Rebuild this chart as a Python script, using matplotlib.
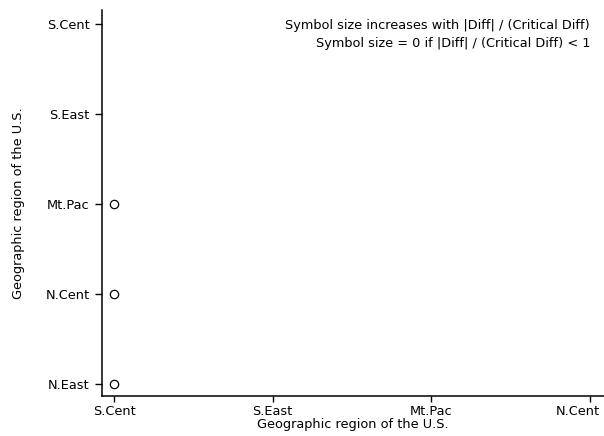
import matplotlib
matplotlib.use('Agg')
import matplotlib.pyplot as plt
import matplotlib.transforms as mtransforms

x_regions = ['S.Cent', 'S.East', 'Mt.Pac', 'N.Cent']
y_regions = ['N.East', 'N.Cent', 'Mt.Pac', 'S.East', 'S.Cent']

# pairs shown as symbols (x region, y region)
pt_x = ['S.Cent', 'S.Cent', 'S.Cent']
pt_y = ['N.East', 'N.Cent', 'Mt.Pac']

note1 = 'Symbol size increases with |Diff| / (Critical Diff)'
note2 = 'Symbol size = 0 if |Diff| / (Critical Diff) < 1'
axis_title = 'Geographic region of the U.S.'

plt.rcParams['font.family'] = ['DejaVu Sans']
plt.rcParams['font.size'] = 9.3

fig = plt.figure(figsize=(6.04, 4.36), dpi=100)
ax = fig.add_axes([102 / 604, 40 / 436, 502 / 604, 386 / 436])

xs = [x_regions.index(v) for v in pt_x]
ys = [y_regions.index(v) for v in pt_y]
ax.plot(xs, ys, 'o', ms=6, mfc='white', mec='black', mew=0.9, ls='none')

ax.set_xticks(range(len(x_regions)))
ax.set_xticklabels(x_regions)
ax.set_yticks(range(len(y_regions)))
ax.set_yticklabels(y_regions)
ax.set_xlim(-0.076, 3.088)
ax.set_ylim(-0.133, 4.156)

for s in ['top', 'right']:
    ax.spines[s].set_visible(False)
for s in ['left', 'bottom']:
    ax.spines[s].set_linewidth(1.1)
ax.tick_params(axis='y', length=5, width=1.0, pad=4)
ax.tick_params(axis='x', length=4.5, width=1.0, pad=2)

# last x label is pushed left so it stays inside the figure
last = ax.get_xticklabels()[-1]
last.set_ha('right')
last.set_transform(last.get_transform() + mtransforms.ScaledTranslation(0.10, 0, fig.dpi_scale_trans))

ax.set_xlabel(axis_title, labelpad=0)
ax.yaxis.set_label_coords(-77 / 502, 0.49)
ax.set_ylabel(axis_title)

fig.text(590 / 604, 1 - 25 / 436, note1, ha='right', va='center')
fig.text(590 / 604, 1 - 43 / 436, note2, ha='right', va='center')

fig.savefig('out.png', dpi=100)
